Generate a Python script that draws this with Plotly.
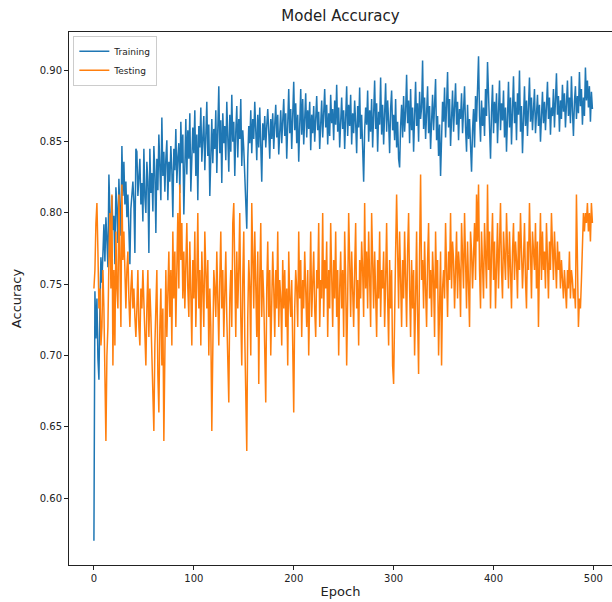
import plotly.graph_objects as go

epochs = list(range(500))

train_acc = [
    0.570, 0.745, 0.712, 0.740, 0.698, 0.683, 0.735, 0.769, 0.751, 0.778,
    0.792, 0.766, 0.797, 0.781, 0.762, 0.827, 0.803, 0.774, 0.812, 0.788,
    0.798, 0.764, 0.818, 0.804, 0.779, 0.824, 0.801, 0.784, 0.847, 0.812,
    0.836, 0.806, 0.822, 0.797, 0.813, 0.792, 0.764, 0.803, 0.818, 0.822,
    0.808, 0.772, 0.845, 0.843, 0.812, 0.826, 0.838, 0.806, 0.821, 0.794,
    0.845, 0.811, 0.800, 0.836, 0.822, 0.772, 0.845, 0.814, 0.828, 0.801,
    0.847, 0.829, 0.786, 0.838, 0.816, 0.855, 0.832, 0.809, 0.867, 0.826,
    0.843, 0.815, 0.838, 0.851, 0.809, 0.836, 0.822, 0.847, 0.830, 0.797,
    0.845, 0.830, 0.859, 0.821, 0.839, 0.849, 0.814, 0.864, 0.835, 0.855,
    0.799, 0.843, 0.866, 0.827, 0.858, 0.838, 0.870, 0.815, 0.851, 0.860,
    0.842, 0.872, 0.826, 0.855, 0.809, 0.861, 0.846, 0.874, 0.836, 0.852,
    0.868, 0.830, 0.857, 0.878, 0.840, 0.862, 0.812, 0.851, 0.866, 0.835,
    0.859, 0.845, 0.872, 0.828, 0.856, 0.889, 0.842, 0.865, 0.821, 0.870,
    0.849, 0.861, 0.837, 0.878, 0.853, 0.829, 0.869, 0.843, 0.883, 0.850,
    0.864, 0.826, 0.857, 0.875, 0.839, 0.866, 0.852, 0.880, 0.833, 0.858,
    0.845, 0.829, 0.812, 0.789, 0.838, 0.861, 0.849, 0.872, 0.842, 0.866,
    0.852, 0.878, 0.858, 0.837, 0.869, 0.846, 0.874, 0.855, 0.822, 0.863,
    0.851, 0.868, 0.846, 0.861, 0.873, 0.857, 0.838, 0.866, 0.852, 0.870,
    0.845, 0.862, 0.876, 0.853, 0.869, 0.841, 0.858, 0.872, 0.849, 0.864,
    0.880, 0.854, 0.870, 0.838, 0.861, 0.887, 0.856, 0.873, 0.845, 0.866,
    0.892, 0.858, 0.877, 0.849, 0.869, 0.836, 0.871, 0.887, 0.855, 0.880,
    0.848, 0.866, 0.884, 0.853, 0.872, 0.859, 0.878, 0.844, 0.869, 0.856,
    0.875, 0.850, 0.864, 0.882, 0.858, 0.871, 0.845, 0.866, 0.879, 0.853,
    0.869, 0.887, 0.860, 0.876, 0.848, 0.870, 0.854, 0.883, 0.863, 0.873,
    0.851, 0.879, 0.862, 0.890, 0.857, 0.874, 0.846, 0.868, 0.881, 0.859,
    0.872, 0.845, 0.866, 0.889, 0.854, 0.876, 0.861, 0.883, 0.848, 0.870,
    0.856, 0.879, 0.863, 0.842, 0.875, 0.860, 0.888, 0.852, 0.869, 0.835,
    0.822, 0.858, 0.874, 0.862, 0.886, 0.850, 0.872, 0.857, 0.880, 0.846,
    0.868, 0.893, 0.859, 0.877, 0.843, 0.871, 0.862, 0.895, 0.855, 0.876,
    0.848, 0.870, 0.891, 0.857, 0.879, 0.864, 0.842, 0.873, 0.886, 0.858,
    0.869, 0.851, 0.880, 0.846, 0.864, 0.838, 0.832, 0.861, 0.876, 0.853,
    0.882, 0.857, 0.871, 0.897, 0.863, 0.879, 0.849, 0.887, 0.858, 0.874,
    0.843, 0.868, 0.892, 0.861, 0.877, 0.850, 0.885, 0.866, 0.874, 0.907,
    0.859, 0.881, 0.852, 0.870, 0.889, 0.856, 0.875, 0.845, 0.866, 0.883,
    0.858, 0.872, 0.894, 0.851, 0.868, 0.840, 0.862, 0.826, 0.857, 0.878,
    0.864, 0.888, 0.853, 0.875, 0.899, 0.860, 0.880, 0.847, 0.869, 0.886,
    0.857, 0.876, 0.891, 0.862, 0.878, 0.851, 0.873, 0.866, 0.884, 0.856,
    0.871, 0.889, 0.860, 0.843, 0.876, 0.852, 0.866, 0.838, 0.829, 0.858,
    0.873, 0.846, 0.882, 0.864, 0.893, 0.910, 0.868, 0.850, 0.879, 0.861,
    0.874, 0.854, 0.887, 0.868, 0.906, 0.882, 0.860, 0.838, 0.871, 0.890,
    0.856, 0.878, 0.863, 0.884, 0.849, 0.872, 0.893, 0.858, 0.877, 0.865,
    0.886, 0.853, 0.874, 0.843, 0.867, 0.892, 0.860, 0.881, 0.848, 0.870,
    0.896, 0.863, 0.878, 0.851, 0.884, 0.869, 0.900, 0.857, 0.875, 0.842,
    0.866, 0.889, 0.861, 0.879, 0.854, 0.871, 0.895, 0.864, 0.881, 0.858,
    0.873, 0.887, 0.856, 0.868, 0.883, 0.861, 0.876, 0.850, 0.869, 0.885,
    0.863, 0.878, 0.858, 0.872, 0.892, 0.866, 0.881, 0.855, 0.874, 0.868,
    0.887, 0.860, 0.876, 0.898, 0.869, 0.882, 0.857, 0.879, 0.866, 0.890,
    0.871, 0.884, 0.860, 0.877, 0.893, 0.868, 0.881, 0.863, 0.896, 0.872,
    0.854, 0.878, 0.889, 0.866, 0.882, 0.870, 0.899, 0.875, 0.887, 0.862,
    0.881, 0.868, 0.902, 0.879, 0.893, 0.874, 0.889, 0.864, 0.885, 0.873,
]

test_acc = [
    0.747, 0.760, 0.793, 0.807, 0.773, 0.733, 0.747, 0.707, 0.720, 0.760,
    0.733, 0.687, 0.640, 0.700, 0.720, 0.767, 0.800, 0.747, 0.813, 0.693,
    0.760, 0.707, 0.787, 0.747, 0.733, 0.813, 0.773, 0.720, 0.820, 0.767,
    0.787, 0.747, 0.733, 0.760, 0.773, 0.740, 0.720, 0.747, 0.760, 0.733,
    0.747, 0.727, 0.713, 0.733, 0.760, 0.720, 0.707, 0.747, 0.733, 0.760,
    0.740, 0.720, 0.693, 0.733, 0.760, 0.713, 0.747, 0.727, 0.700, 0.680,
    0.647, 0.707, 0.733, 0.760, 0.687, 0.660, 0.720, 0.747, 0.693, 0.733,
    0.640, 0.700, 0.760, 0.713, 0.747, 0.773, 0.727, 0.760, 0.707, 0.787,
    0.740, 0.773, 0.720, 0.760, 0.800, 0.747, 0.820, 0.767, 0.793, 0.740,
    0.773, 0.733, 0.760, 0.793, 0.747, 0.727, 0.780, 0.753, 0.707, 0.767,
    0.740, 0.787, 0.720, 0.753, 0.800, 0.733, 0.760, 0.707, 0.773, 0.747,
    0.720, 0.787, 0.753, 0.733, 0.767, 0.700, 0.747, 0.720, 0.647, 0.733,
    0.760, 0.747, 0.727, 0.773, 0.740, 0.707, 0.753, 0.787, 0.733, 0.760,
    0.713, 0.747, 0.773, 0.727, 0.693, 0.667, 0.740, 0.760, 0.720, 0.793,
    0.807, 0.747, 0.713, 0.773, 0.733, 0.760, 0.800, 0.727, 0.693, 0.753,
    0.787, 0.713, 0.680, 0.633, 0.727, 0.767, 0.747, 0.700, 0.807, 0.760,
    0.733, 0.787, 0.747, 0.713, 0.773, 0.680, 0.753, 0.793, 0.727, 0.760,
    0.740, 0.707, 0.667, 0.747, 0.780, 0.727, 0.760, 0.700, 0.733, 0.773,
    0.747, 0.713, 0.760, 0.733, 0.787, 0.720, 0.753, 0.740, 0.707, 0.767,
    0.733, 0.760, 0.720, 0.747, 0.693, 0.773, 0.740, 0.727, 0.753, 0.707,
    0.660, 0.733, 0.760, 0.747, 0.720, 0.787, 0.740, 0.767, 0.713, 0.753,
    0.733, 0.773, 0.747, 0.720, 0.760, 0.700, 0.740, 0.787, 0.727, 0.753,
    0.773, 0.733, 0.713, 0.760, 0.747, 0.793, 0.720, 0.753, 0.740, 0.800,
    0.727, 0.767, 0.747, 0.780, 0.713, 0.760, 0.733, 0.793, 0.753, 0.720,
    0.767, 0.740, 0.787, 0.727, 0.760, 0.700, 0.747, 0.773, 0.733, 0.760,
    0.713, 0.787, 0.753, 0.693, 0.740, 0.800, 0.767, 0.727, 0.773, 0.747,
    0.720, 0.760, 0.793, 0.733, 0.753, 0.707, 0.767, 0.740, 0.780, 0.760,
    0.727, 0.807, 0.747, 0.773, 0.733, 0.787, 0.760, 0.720, 0.800, 0.753,
    0.733, 0.773, 0.747, 0.713, 0.767, 0.740, 0.787, 0.727, 0.760, 0.747,
    0.773, 0.720, 0.753, 0.793, 0.740, 0.707, 0.767, 0.733, 0.760, 0.693,
    0.680, 0.747, 0.773, 0.813, 0.760, 0.733, 0.787, 0.747, 0.720, 0.767,
    0.740, 0.787, 0.753, 0.720, 0.773, 0.800, 0.747, 0.713, 0.767, 0.733,
    0.760, 0.700, 0.740, 0.787, 0.727, 0.687, 0.773, 0.827, 0.753, 0.767,
    0.733, 0.780, 0.747, 0.720, 0.767, 0.793, 0.740, 0.760, 0.727, 0.773,
    0.753, 0.713, 0.787, 0.747, 0.767, 0.700, 0.733, 0.773, 0.693, 0.747,
    0.760, 0.740, 0.793, 0.767, 0.727, 0.773, 0.753, 0.800, 0.747, 0.780,
    0.767, 0.733, 0.753, 0.787, 0.740, 0.773, 0.760, 0.727, 0.793, 0.767,
    0.747, 0.800, 0.760, 0.733, 0.780, 0.753, 0.720, 0.787, 0.773, 0.747,
    0.767, 0.793, 0.753, 0.813, 0.780, 0.820, 0.760, 0.733, 0.787, 0.767,
    0.740, 0.793, 0.773, 0.747, 0.820, 0.760, 0.787, 0.733, 0.773, 0.800,
    0.753, 0.780, 0.733, 0.767, 0.793, 0.747, 0.773, 0.807, 0.760, 0.740,
    0.787, 0.767, 0.753, 0.800, 0.773, 0.747, 0.787, 0.760, 0.733, 0.773,
    0.793, 0.753, 0.780, 0.767, 0.740, 0.787, 0.760, 0.800, 0.773, 0.747,
    0.767, 0.793, 0.753, 0.733, 0.780, 0.760, 0.807, 0.767, 0.740, 0.787,
    0.773, 0.760, 0.793, 0.747, 0.780, 0.720, 0.767, 0.800, 0.753, 0.787,
    0.760, 0.773, 0.747, 0.793, 0.767, 0.740, 0.780, 0.760, 0.800, 0.773,
    0.753, 0.787, 0.767, 0.747, 0.780, 0.760, 0.773, 0.747, 0.767, 0.753,
    0.740, 0.760, 0.747, 0.733, 0.760, 0.747, 0.773, 0.740, 0.760, 0.753,
    0.740, 0.747, 0.733, 0.813, 0.767, 0.720, 0.740, 0.733, 0.753, 0.787,
    0.800, 0.787, 0.800, 0.793, 0.807, 0.787, 0.800, 0.780, 0.807, 0.793,
]

x_ticks = [0, 100, 200, 300, 400, 500]
y_ticks = [0.60, 0.65, 0.70, 0.75, 0.80, 0.85, 0.90]

fig = go.Figure()
fig.add_trace(go.Scatter(x=epochs, y=train_acc, mode="lines", name="Training",
                         line=dict(color="#1f77b4", width=1.5)))
fig.add_trace(go.Scatter(x=epochs, y=test_acc, mode="lines", name="Testing",
                         line=dict(color="#ff7f0e", width=1.5)))

font_family = "DejaVu Sans, sans-serif"
fig.update_layout(
    width=612, height=602,
    margin=dict(l=69, r=0, t=32, b=37),
    paper_bgcolor="white", plot_bgcolor="white",
    font=dict(family=font_family, color="#222222", size=10),
    title=dict(text="Model Accuracy", x=(69 + 612) / 2 / 612, xanchor="center",
               y=1 - 16 / 602, yanchor="middle",
               font=dict(size=15, family=font_family, color="#222222")),
    showlegend=True,
    legend=dict(x=0.008, y=0.993, xanchor="left", yanchor="top",
                bgcolor="rgba(255,255,255,0.8)", bordercolor="#cccccc", borderwidth=1,
                font=dict(size=9, family=font_family, color="#222222"),
                tracegroupgap=0, itemwidth=30),
)
fig.update_xaxes(
    range=[-24.95, 518.6], tickvals=x_ticks, ticks="outside", ticklen=4,
    tickcolor="#222222", showline=True, linecolor="#222222", linewidth=1,
    mirror=True, showgrid=False, zeroline=False,
    title=dict(text="Epoch", font=dict(size=13, family=font_family, color="#222222"), standoff=3),
    tickfont=dict(size=10),
)
fig.update_yaxes(
    range=[0.553, 0.927], tickvals=y_ticks, tickformat=".2f", ticks="outside", ticklen=4,
    tickcolor="#222222", showline=True, linecolor="#222222", linewidth=1,
    mirror=False, showgrid=False, zeroline=False,
    title=dict(text="Accuracy", font=dict(size=13, family=font_family, color="#222222"), standoff=15),
    tickfont=dict(size=10),
)

fig.write_html("out.html")
